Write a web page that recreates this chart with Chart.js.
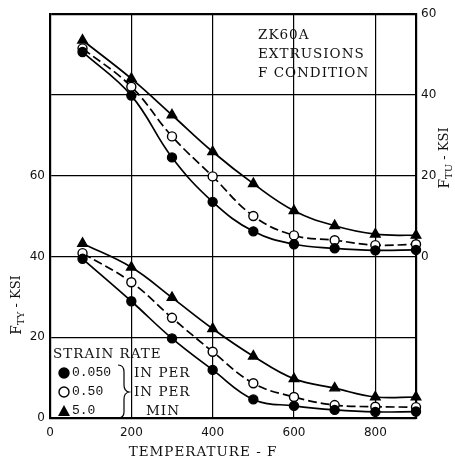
<!DOCTYPE html>
<html>
<head>
<meta charset="utf-8">
<script src="https://cdn.jsdelivr.net/npm/chart.js@4.4.1/dist/chart.umd.min.js"></script>
<style>
    body { margin: 0; background: #fff; }
    #wrap { width: 455px; height: 464px; }
</style>
</head>
<body>
<div id="wrap"><canvas id="chart" width="455" height="464"></canvas></div>
<script>
// temperatures (F) where the tests were run
const temps = [80, 200, 300, 400, 500, 600, 700, 800, 900];

// ultimate strength F_TU (right axis, ksi)
const ftu_0050 = [50.6, 39.8, 24.5, 13.5, 6.2, 3.0, 2.0, 1.5, 1.6];
const ftu_050 = [51.5, 42.0, 29.7, 19.8, 10.0, 5.2, 4.0, 2.8, 3.0];
const ftu_50 = [53.5, 44.0, 35.0, 25.9, 18.0, 11.3, 7.6, 5.5, 5.2];

// yield strength F_TY (left axis, ksi)
const fty_0050 = [39.4, 28.9, 19.7, 11.9, 4.6, 3.0, 2.0, 1.5, 1.6];
const fty_050 = [40.8, 33.6, 24.8, 16.4, 8.6, 5.2, 3.2, 2.8, 2.7];
const fty_50 = [43.2, 37.3, 29.8, 22.1, 15.3, 9.7, 7.4, 5.2, 5.2];

const xTicks = [0, 200, 400, 600, 800];
const leftGrid = [0, 20, 40, 60, 80, 100];
const leftLabels = [0, 20, 40, 60];
const rightTicks = [0, 20, 40, 60];

const serif = "'DejaVu Serif', serif";
const sans = "'DejaVu Sans', sans-serif";

function toPoints(values) {
    return temps.map((t, i) => ({ x: t, y: values[i] }));
}

function makeSeries(values, axis, kind) {
    const ds = {
        data: toPoints(values),
        yAxisID: axis,
        borderColor: '#000',
        borderWidth: 1.7,
        tension: 0.4,
        clip: false,
        pointRadius: 4.5,
        pointBorderColor: '#000',
        pointBorderWidth: 1.4,
        pointBackgroundColor: '#000'
    };
    if (kind === 'open') {
        ds.borderDash = [9, 4];
        ds.pointBackgroundColor = '#fff';
    }
    if (kind === 'tri') {
        ds.pointStyle = 'triangle';
        ds.pointRadius = 5.5;
    }
    return ds;
}

const textPlugin = {
    id: 'texts',
    afterDraw(chart) {
        const ctx = chart.ctx;
        ctx.save();
        ctx.fillStyle = '#111';

        // rotated axis title with subscript
        function yTitle(x, y, sub) {
            ctx.save();
            ctx.translate(x, y);
            ctx.rotate(-Math.PI / 2);
            ctx.textBaseline = 'middle';
            ctx.font = '14px ' + serif;
            const w1 = ctx.measureText('F').width;
            ctx.font = '10px ' + serif;
            const w2 = ctx.measureText(sub).width;
            ctx.font = '13px ' + serif;
            const w3 = ctx.measureText(' - KSI').width;
            let cx = -(w1 + w2 + w3) / 2;
            ctx.textAlign = 'left';
            ctx.font = '14px ' + serif;
            ctx.fillText('F', cx, 0);
            cx += w1;
            ctx.font = '10px ' + serif;
            ctx.fillText(sub, cx, 4);
            cx += w2;
            ctx.font = '13px ' + serif;
            ctx.fillText(' - KSI', cx, 0);
            ctx.restore();
        }
        yTitle(17, 305, 'TY');
        yTitle(445, 158, 'TU');

        ctx.letterSpacing = '1px';
        ctx.textBaseline = 'middle';
        ctx.textAlign = 'center';
        ctx.font = '13.5px ' + serif;
        ctx.fillText('TEMPERATURE - F', 203, 452);

        ctx.textAlign = 'left';
        ctx.fillText('ZK60A', 258, 35);
        ctx.fillText('EXTRUSIONS', 258, 54);
        ctx.fillText('F CONDITION', 258, 73);

        // strain rate key
        ctx.fillText('STRAIN RATE', 53, 354);
        const rows = [['0.050', 'IN PER', 'filled'], ['0.50', 'IN PER', 'open'], ['5.0', 'MIN', 'tri']];
        rows.forEach((r, i) => {
            const y = 373 + i * 19;
            ctx.lineWidth = 1.4;
            ctx.strokeStyle = '#000';
            if (r[2] === 'tri') {
                ctx.beginPath();
                ctx.moveTo(64, y - 6);
                ctx.lineTo(70, y + 5);
                ctx.lineTo(58, y + 5);
                ctx.closePath();
                ctx.fillStyle = '#000';
                ctx.fill();
            } else {
                ctx.beginPath();
                ctx.arc(64, y, 5, 0, Math.PI * 2);
                ctx.fillStyle = r[2] === 'filled' ? '#000' : '#fff';
                ctx.fill();
                ctx.stroke();
            }
            ctx.fillStyle = '#111';
            ctx.letterSpacing = '0px';
            ctx.font = "13px 'Liberation Mono', monospace";
            ctx.textAlign = 'left';
            ctx.fillText(r[0], 72, y);
            ctx.letterSpacing = '1px';
            ctx.font = '13.5px ' + serif;
            if (i === 2) {
                ctx.textAlign = 'center';
                ctx.fillText(r[1], 163, y);
            } else {
                ctx.fillText(r[1], 134, y);
            }
        });

        // brace
        ctx.strokeStyle = '#000';
        ctx.lineWidth = 1.2;
        ctx.beginPath();
        ctx.moveTo(118, 365);
        ctx.quadraticCurveTo(124, 365, 124, 372);
        ctx.lineTo(124, 385);
        ctx.quadraticCurveTo(124, 391, 129, 392);
        ctx.quadraticCurveTo(124, 393, 124, 399);
        ctx.lineTo(124, 412);
        ctx.quadraticCurveTo(124, 418, 118, 418);
        ctx.stroke();

        ctx.restore();
    }
};

new Chart(document.getElementById('chart'), {
    type: 'line',
    data: {
        datasets: [
            makeSeries(ftu_0050, 'y2', 'filled'),
            makeSeries(ftu_050, 'y2', 'open'),
            makeSeries(ftu_50, 'y2', 'tri'),
            makeSeries(fty_0050, 'y', 'filled'),
            makeSeries(fty_050, 'y', 'open'),
            makeSeries(fty_50, 'y', 'tri')
        ]
    },
    options: {
        responsive: false,
        animation: false,
        layout: { padding: { top: 14 } },
        plugins: {
            legend: { display: false },
            tooltip: { enabled: false }
        },
        scales: {
            x: {
                type: 'linear',
                min: 0,
                max: 900,
                afterBuildTicks: scale => { scale.ticks = xTicks.map(v => ({ value: v })); },
                afterFit: scale => { scale.height = 46; },
                ticks: {
                    color: '#111',
                    padding: 8,
                    maxRotation: 0,
                    font: { family: sans, size: 12 }
                },
                grid: { color: '#000', lineWidth: 1.2, drawTicks: false },
                border: { color: '#000', width: 2.2 }
            },
            y: {
                position: 'left',
                min: 0,
                max: 100,
                afterBuildTicks: scale => { scale.ticks = leftGrid.map(v => ({ value: v })); },
                afterFit: scale => { scale.width = 50; },
                ticks: {
                    color: '#111',
                    padding: 5,
                    font: { family: sans, size: 12 },
                    callback: v => leftLabels.includes(v) ? String(v) : ''
                },
                grid: {
                    color: '#000',
                    lineWidth: ctx => ctx.tick && ctx.tick.value === 100 ? 2.2 : 1.2,
                    drawTicks: false
                },
                border: { color: '#000', width: 2.2 }
            },
            y2: {
                position: 'right',
                min: -40,
                max: 60,
                afterBuildTicks: scale => { scale.ticks = rightTicks.map(v => ({ value: v })); },
                afterFit: scale => { scale.width = 39; },
                ticks: {
                    color: '#111',
                    padding: 5,
                    font: { family: sans, size: 12 }
                },
                grid: { display: false, drawTicks: false },
                border: { color: '#000', width: 2.2 }
            }
        }
    },
    plugins: [textPlugin]
});
</script>
</body>
</html>
